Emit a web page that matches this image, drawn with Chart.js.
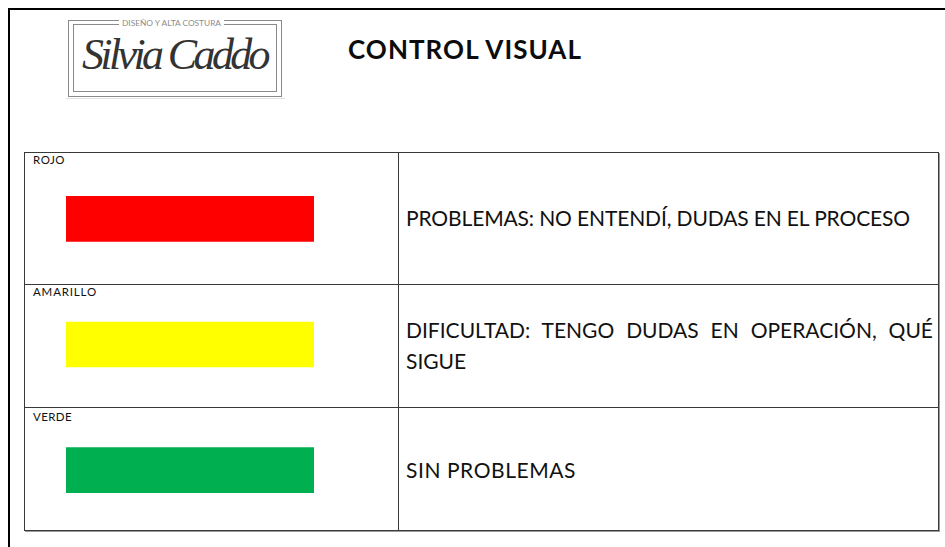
<!DOCTYPE html>
<html>
<head>
<meta charset="utf-8">
<script src="https://cdn.jsdelivr.net/npm/chart.js@4"></script>
<style>
    html, body { margin: 0; padding: 0; background: #fff; }
    body { width: 945px; height: 547px; position: relative; overflow: hidden; font-family: Lato, "Open Sans", sans-serif; color: #111; }
    .abs { position: absolute; white-space: nowrap; }
    .frame-top { left: 8px; top: 8px; width: 937px; height: 2px; background: #000; }
    .frame-left { left: 8px; top: 8px; width: 2px; height: 539px; background: #000; }
    .logo-out { left: 68px; top: 20px; width: 214px; height: 77px; border: 1px solid #8a8a8a; box-sizing: border-box; }
    .logo-in { left: 73px; top: 24px; width: 204px; height: 68px; border: 1px solid #8a8a8a; box-sizing: border-box; }
    .logo-line { left: 66px; top: 98px; width: 219px; height: 1px; background: #dde4dc; }
    .logo-sub { left: 119px; top: 18px; font-size: 8.4px; line-height: 10px; color: #8c8c8c; background: #fff; padding: 0 3px; }
    .logo-name { left: 82px; top: 31px; font-family: "Liberation Serif", serif; font-style: italic; font-size: 44px; line-height: 48px; color: #333; }
    .title { left: 348px; font-weight: bold; font-size: 26px; line-height: 26px; color: #0c0c0c; }
    .tbl { left: 24px; top: 152px; width: 915px; height: 379px; border: 1px solid #3a3a3a; box-sizing: border-box; box-shadow: 1px 1px 0 #9a9a9a; }
    .vline { left: 398px; top: 152px; width: 1px; height: 378px; background: #3a3a3a; }
    .hline { left: 24px; width: 914px; height: 1px; background: #3a3a3a; }
    .lbl { left: 33px; font-size: 11.5px; line-height: 12px; color: #111; }
    .desc { left: 406px; font-size: 21px; line-height: 21px; color: #111; }
    .just { width: 527px; text-align: justify; text-align-last: justify; white-space: normal; }
    #barBox { position: absolute; left: 66px; top: 156px; width: 248px; height: 377px; }
</style>
</head>
<body>
<div class="abs frame-top"></div>
<div class="abs frame-left"></div>

<div class="abs logo-out"></div>
<div class="abs logo-in"></div>
<div class="abs logo-line"></div>
<div class="abs logo-sub" data-fit="105">DISEÑO Y ALTA COSTURA</div>
<div class="abs logo-name" data-fit="185">Silvia Caddo</div>

<div class="abs title" id="title" data-fit="234"></div>

<div class="abs tbl"></div>
<div class="abs vline"></div>
<div class="abs hline" style="top:284px"></div>
<div class="abs hline" style="top:407px"></div>

<div id="labels"></div>
<div id="descs"></div>

<div id="barBox"><canvas id="levelChart" width="248" height="377"></canvas></div>

<script>
const titleText = 'CONTROL VISUAL';
const levels = ['ROJO', 'AMARILLO', 'VERDE'];
const levelValues = [100, 100, 100];
const levelColors = ['#ff0000', '#ffff00', '#00b050'];
const descLines = [
    ['PROBLEMAS: NO ENTENDÍ, DUDAS EN EL PROCESO'],
    ['DIFICULTAD: TENGO DUDAS EN OPERACIÓN, QUÉ', 'SIGUE'],
    ['SIN PROBLEMAS']
];

// layout of the text in the table
const labelCenters = [160, 292, 417.5];
const labelWidths = [32, 64, 39];
const descCenters = [[218], [330, 361.5], [470.5]];
const descWidths = [[504], [null, null], [170]];

function placeText(el, fontSize, capCenter) {
    el.style.top = (capCenter - 0.53 * fontSize) + 'px';
}

function fitWidth(el, target) {
    const n = el.textContent.length;
    const w = el.getBoundingClientRect().width;
    el.style.letterSpacing = ((target - w) / n) + 'px';
}

document.addEventListener('DOMContentLoaded', function () {
    const t = document.getElementById('title');
    t.textContent = titleText;
    placeText(t, 26, 50);

    const lblBox = document.getElementById('labels');
    levels.forEach((name, i) => {
        const d = document.createElement('div');
        d.className = 'abs lbl';
        d.textContent = name;
        lblBox.appendChild(d);
        placeText(d, 11.5, labelCenters[i]);
        fitWidth(d, labelWidths[i]);
    });

    const descBox = document.getElementById('descs');
    descLines.forEach((lines, i) => {
        lines.forEach((txt, j) => {
            const d = document.createElement('div');
            d.className = 'abs desc';
            if (lines.length > 1 && j === 0) d.className += ' just';
            d.textContent = txt;
            descBox.appendChild(d);
            placeText(d, 21, descCenters[i][j]);
            if (descWidths[i][j]) fitWidth(d, descWidths[i][j]);
        });
    });

    document.querySelectorAll('[data-fit]').forEach(el => fitWidth(el, +el.dataset.fit));

    renderLevels();
});

function renderLevels() {
    const ctx = document.getElementById('levelChart').getContext('2d');
    new Chart(ctx, {
        type: 'bar',
        data: {
            labels: levels,
            datasets: [{
                data: levelValues,
                backgroundColor: levelColors,
                borderWidth: 0,
                barThickness: 45
            }]
        },
        options: {
            indexAxis: 'y',
            responsive: false,
            animation: false,
            layout: { padding: 0 },
            plugins: { legend: { display: false }, tooltip: { enabled: false } },
            scales: {
                x: { display: false, min: 0, max: 100 },
                y: { display: false, offset: true }
            }
        }
    });
}
</script>
</body>
</html>
